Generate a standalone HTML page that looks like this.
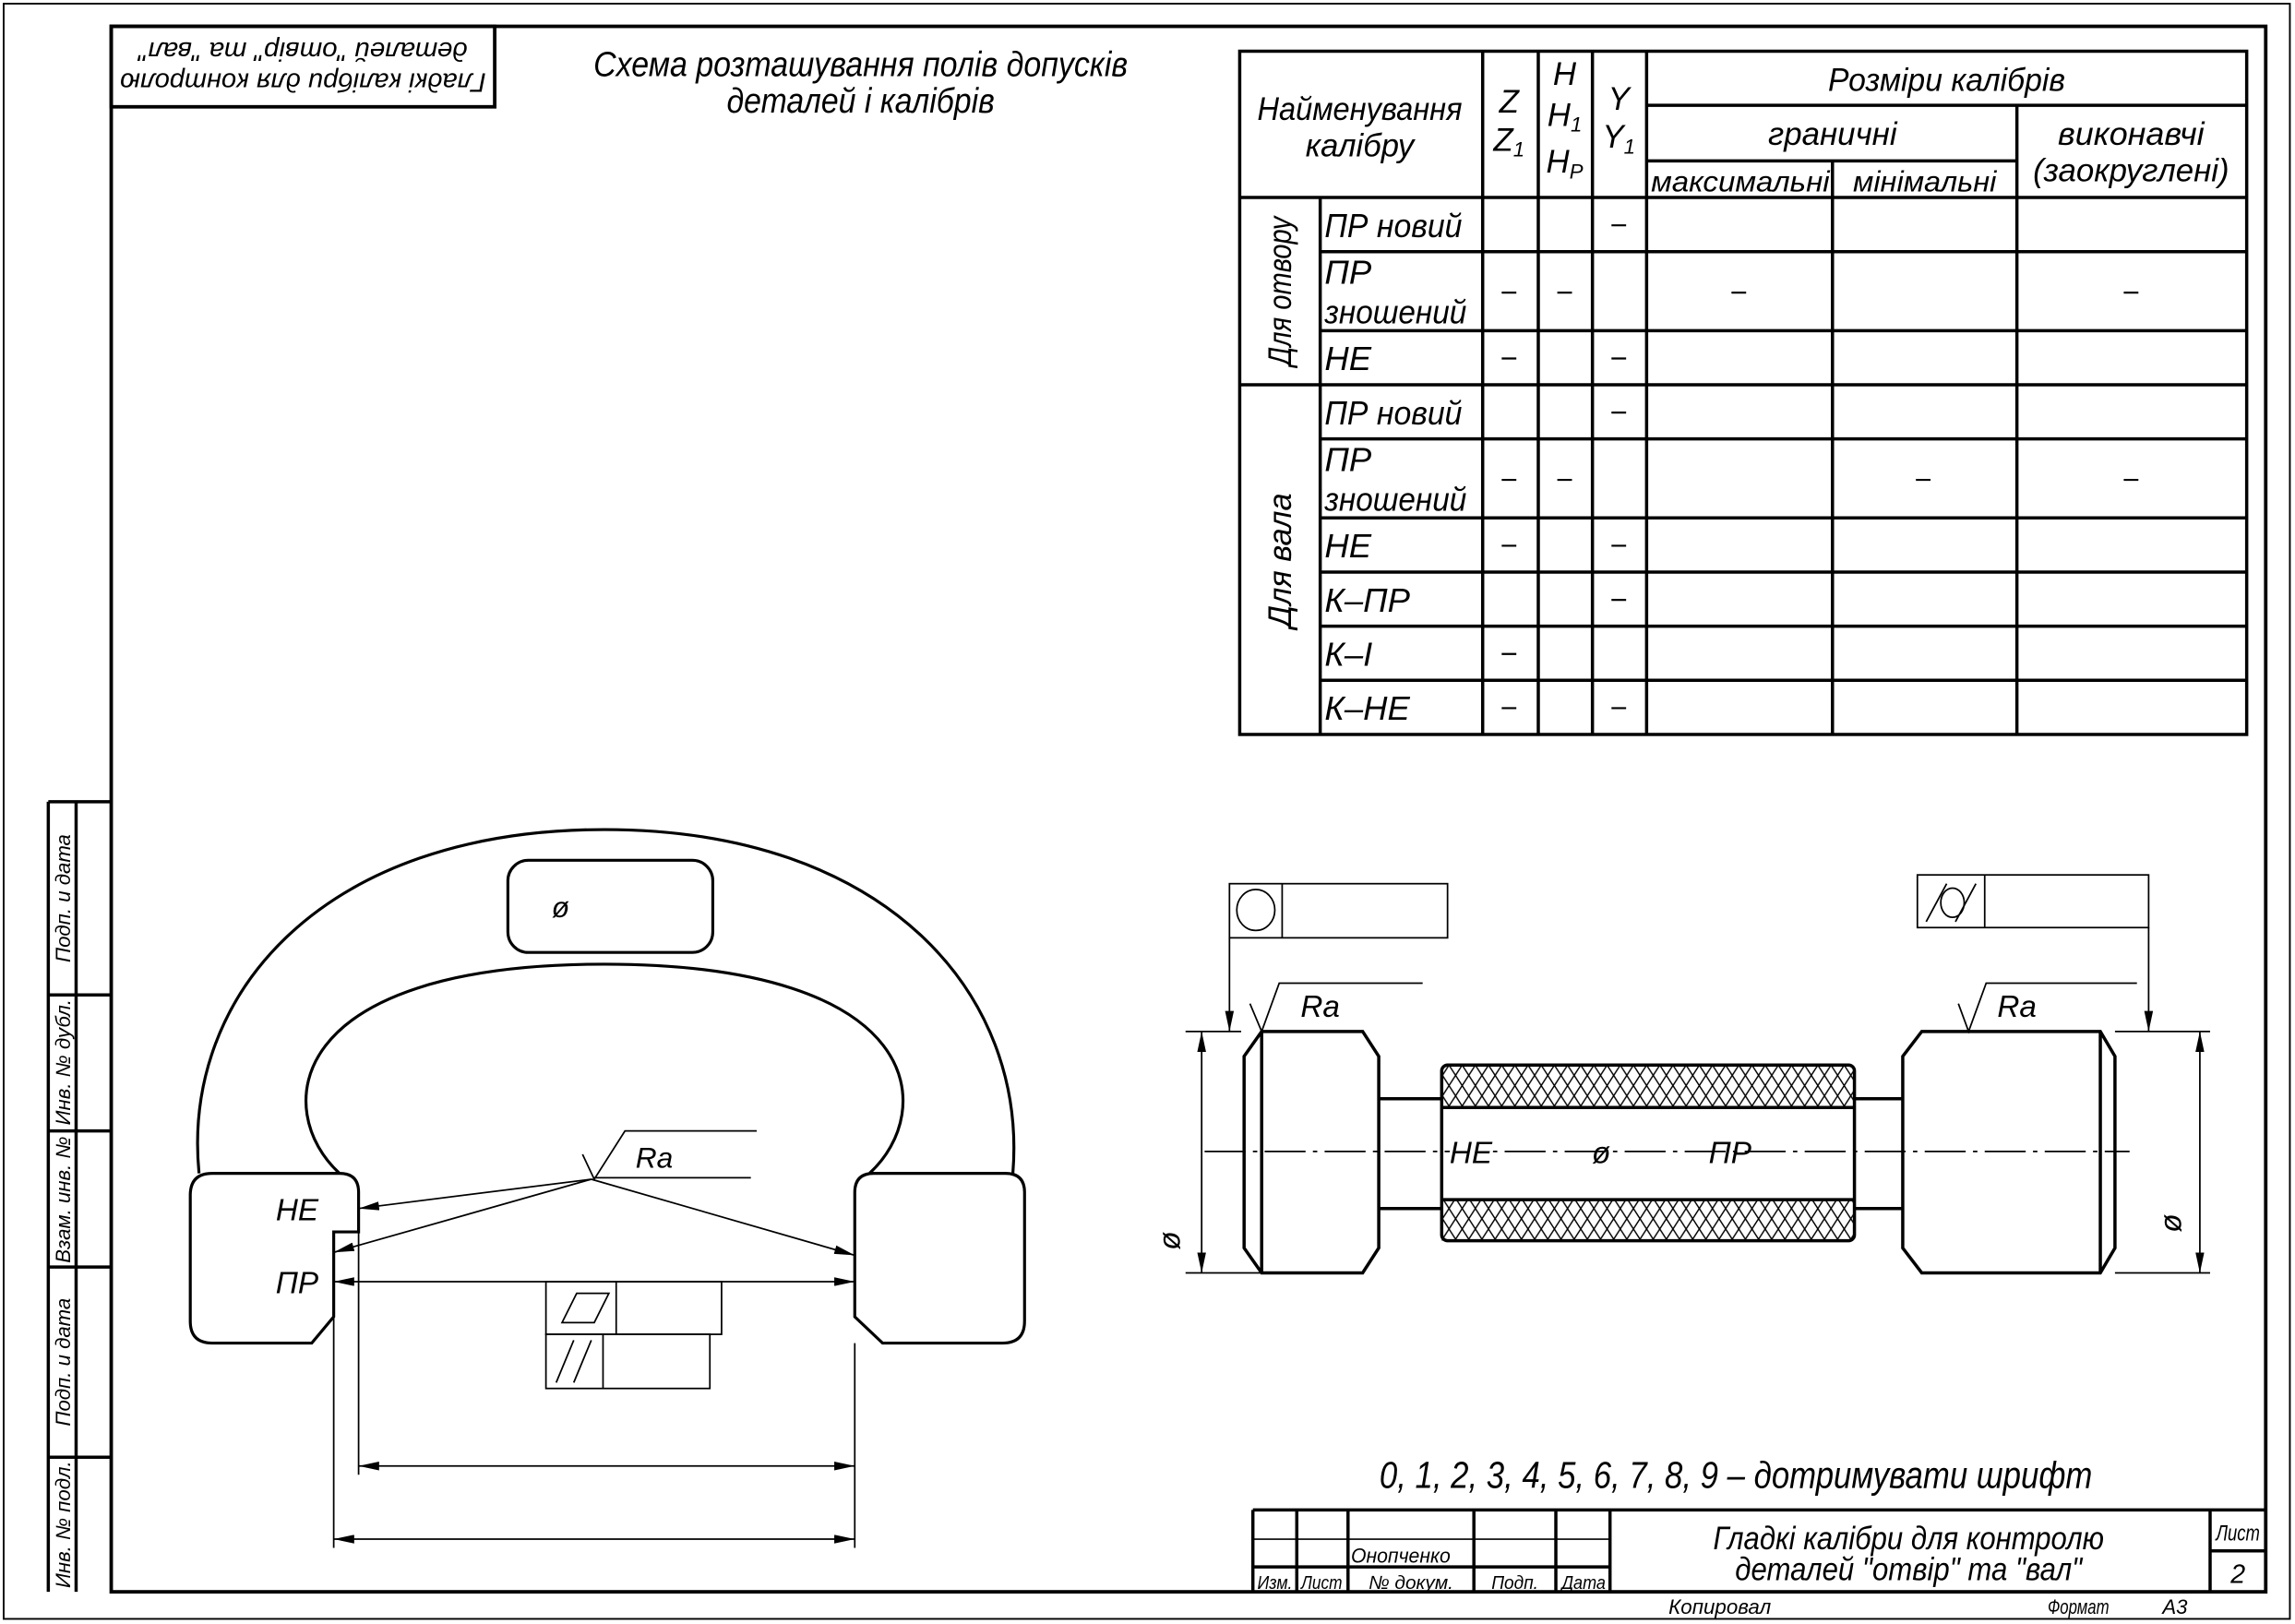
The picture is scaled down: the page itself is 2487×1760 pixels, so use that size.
<!DOCTYPE html>
<html><head><meta charset="utf-8"><style>
html,body{margin:0;padding:0;background:#fff}
svg{display:block}
text{font-family:"Liberation Sans Narrow","Liberation Sans","Noto Sans CJK SC",sans-serif;font-style:italic;fill:#000}
</style></head><body>
<svg width="2487" height="1760" viewBox="0 0 1568 1110" preserveAspectRatio="none" xmlns="http://www.w3.org/2000/svg">
<defs>
<pattern id="kn" width="9" height="14" patternUnits="userSpaceOnUse">
<path d="M0,0 L9,14 M9,0 L0,14" stroke="#000" stroke-width="0.9" fill="none"/>
</pattern>
<marker id="ar" viewBox="0 0 14 6" refX="14" refY="3" markerWidth="14" markerHeight="6" markerUnits="userSpaceOnUse" orient="auto-start-reverse">
<path d="M0,0 L14,3 L0,6 Z" fill="#000"/>
</marker>
</defs>
<rect x="0" y="0" width="1568" height="1110" fill="#fff"/>
<rect x="2.5" y="2.5" width="1562" height="1104" fill="none" stroke="#000" stroke-width="1.2"/>
<rect x="76" y="18" width="1472" height="1070" fill="none" stroke="#000" stroke-width="2.4"/>
<rect x="76" y="18" width="262" height="55" fill="none" stroke="#000" stroke-width="2.4"/>
<g transform="rotate(180 207 45.5)" font-size="18" text-anchor="middle">
<text x="207" y="41" textLength="250" lengthAdjust="spacingAndGlyphs">Гладкі калібри для контролю</text>
<text x="207" y="62" textLength="225" lengthAdjust="spacingAndGlyphs">деталей "отвір" та "вал"</text>
</g>
<text x="588" y="52" font-size="24" text-anchor="middle" textLength="365" lengthAdjust="spacingAndGlyphs">Схема розташування полів допусків</text>
<text x="588" y="77" font-size="24" text-anchor="middle" textLength="183" lengthAdjust="spacingAndGlyphs">деталей і калібрів</text>
<g stroke="#000" stroke-width="2.2" fill="none">
<path d="M33,548 L33,1088 M52,548 L52,1088 M33,548 L76,548 M33,680 L76,680 M33,773 L76,773 M33,866 L76,866 M33,996 L76,996"/>
</g>
<g font-size="14" text-anchor="middle">
<text transform="translate(48 614) rotate(-90)">Подп. и дата</text>
<text transform="translate(48 726) rotate(-90)">Инв. № дубл.</text>
<text transform="translate(48 820) rotate(-90)">Взам. инв. №</text>
<text transform="translate(48 931) rotate(-90)">Подп. и дата</text>
<text transform="translate(48 1042) rotate(-90)">Инв. № подл.</text>
</g>
<g stroke="#000" stroke-width="2.2" fill="none">
<rect x="847" y="35" width="688" height="467"/>
<path d="M1013,35 V502 M1051,35 V502 M1088,35 V502 M1125,35 V502 M1252,110 V502 M1378,72 V502 M902,135 V502"/>
<path d="M1125,72 H1535 M1125,110 H1378 M847,135 H1535 M902,172 H1535 M902,226 H1535 M847,263 H1535 M902,300 H1535 M902,354 H1535 M902,391 H1535 M902,428 H1535 M902,465 H1535"/>
</g>
<g font-size="22" text-anchor="middle">
<text x="929" y="82" textLength="140" lengthAdjust="spacingAndGlyphs">Найменування</text>
<text x="929" y="107" textLength="74" lengthAdjust="spacingAndGlyphs">калібру</text>
<text x="1031" y="77">Z</text>
<text x="1031" y="103">Z<tspan font-size="14" dy="4">1</tspan></text>
<text x="1069" y="58">H</text>
<text x="1069" y="86">H<tspan font-size="14" dy="4">1</tspan></text>
<text x="1069" y="118">H<tspan font-size="14" dy="4">P</tspan></text>
<text x="1106" y="75">Y</text>
<text x="1106" y="101">Y<tspan font-size="14" dy="4">1</tspan></text>
<text x="1330" y="62" textLength="162" lengthAdjust="spacingAndGlyphs">Розміри калібрів</text>
<text x="1252" y="99" textLength="88" lengthAdjust="spacingAndGlyphs">граничні</text>
<text x="1456" y="99" textLength="100" lengthAdjust="spacingAndGlyphs">виконавчі</text>
<text x="1456" y="124" textLength="134" lengthAdjust="spacingAndGlyphs">(заокруглені)</text>
<text x="1189" y="131" font-size="20" textLength="122" lengthAdjust="spacingAndGlyphs">максимальні</text>
<text x="1315" y="131" font-size="20" textLength="98" lengthAdjust="spacingAndGlyphs">мінімальні</text>
<text transform="translate(882 199) rotate(-90)" textLength="102" lengthAdjust="spacingAndGlyphs">Для отвору</text>
<text transform="translate(882 383) rotate(-90)" textLength="92" lengthAdjust="spacingAndGlyphs">Для вала</text>
</g>
<g font-size="23">
<text x="905" y="162" textLength="94" lengthAdjust="spacingAndGlyphs">ПР новий</text>
<text x="905" y="194">ПР</text>
<text x="905" y="221" textLength="97" lengthAdjust="spacingAndGlyphs">зношений</text>
<text x="905" y="253">НЕ</text>
<text x="905" y="290" textLength="94" lengthAdjust="spacingAndGlyphs">ПР новий</text>
<text x="905" y="322">ПР</text>
<text x="905" y="349" textLength="97" lengthAdjust="spacingAndGlyphs">зношений</text>
<text x="905" y="381">НЕ</text>
<text x="905" y="418">К–ПР</text>
<text x="905" y="455">К–І</text>
<text x="905" y="492">К–НЕ</text>
</g>
<g stroke="#000" stroke-width="1.4">
<path d="M1101,154 h10 M1026,200 h10 M1064,200 h10 M1183,200 h10 M1451,200 h10 M1026,245 h10 M1101,245 h10
M1101,282 h10 M1026,328 h10 M1064,328 h10 M1309,328 h10 M1451,328 h10 M1026,373 h10 M1101,373 h10 M1101,410 h10 M1026,447 h10 M1026,484 h10 M1101,484 h10"/>
</g>
<g stroke="#000" stroke-width="2" fill="none">
<path d="M136,802 C124,680 220,567 413,567 C606,567 702,680 692,802"/>
<path d="M232,802 C186,760 192,659 413,659 C634,659 640,760 594,802"/>
<path d="M145,802 L232,802 Q245,802 245,815 L245,842 L228,842 L228,900 L213,918 L145,918 Q130,918 130,903 L130,817 Q130,802 145,802 Z" fill="#fff"/>
<path d="M597,802 L687,802 Q700,802 700,815 L700,903 Q700,918 685,918 L603,918 L584,900 L584,815 Q584,802 597,802 Z" fill="#fff"/>
<rect x="347" y="588" width="140" height="63" rx="14"/>
</g>
<text x="383" y="627" font-size="20" text-anchor="middle">ø</text>
<text x="203" y="834" font-size="21" text-anchor="middle">НЕ</text>
<text x="203" y="884" font-size="21" text-anchor="middle">ПР</text>
<g stroke="#000" stroke-width="1.1" fill="none">
<path d="M398,789 L406,806 L427,773 L517,773 M405,805 L513,805"/>
<path d="M404,806 L245,826" marker-end="url(#ar)"/>
<path d="M404,806 L228,856" marker-end="url(#ar)"/>
<path d="M404,806 L584,858" marker-end="url(#ar)"/>
<path d="M228,876 L584,876" marker-start="url(#ar)" marker-end="url(#ar)"/>
<path d="M245,1002 L584,1002" marker-start="url(#ar)" marker-end="url(#ar)"/>
<path d="M228,1052 L584,1052" marker-start="url(#ar)" marker-end="url(#ar)"/>
<path d="M228,900 V1058 M245,842 V1008 M584,918 V1058"/>
<rect x="373" y="876" width="120" height="36"/>
<path d="M421,876 V912"/>
<path d="M384,904 L394,884 L416,884 L406,904 Z"/>
<rect x="373" y="912" width="112" height="37"/>
<path d="M412,912 V949 M380,945 L392,916 M392,945 L404,916"/>
</g>
<text x="447" y="798" font-size="20" text-anchor="middle">Ra</text>
<g stroke="#000" stroke-width="1.1" fill="none">
<rect x="840" y="604" width="149" height="37"/>
<path d="M876,604 V641"/>
<ellipse cx="858" cy="622" rx="13" ry="14"/>
<path d="M840,641 V705" marker-end="url(#ar)"/>
<rect x="1310" y="598" width="158" height="36"/>
<path d="M1356,598 V634"/>
<path d="M1468,634 V705" marker-end="url(#ar)"/>
<ellipse cx="1334" cy="617" rx="8" ry="10"/>
<path d="M1316,630 L1330,604 M1336,630 L1350,604"/>
<path d="M854,686 L862,705 L874,672 L972,672 M1338,686 L1345,705 L1357,672 L1460,672"/>
<path d="M810,705 H848 M810,870 H862 M1445,705 H1510 M1445,870 H1510"/>
<path d="M821,705 V870" marker-start="url(#ar)" marker-end="url(#ar)"/>
<path d="M1503,705 V870" marker-start="url(#ar)" marker-end="url(#ar)"/>
<path d="M823,787 H1455" stroke-dasharray="28,5,3,5"/>
</g>
<rect x="985" y="728" width="282" height="29" fill="url(#kn)"/>
<rect x="985" y="820" width="282" height="28" fill="url(#kn)"/>
<g stroke="#000" stroke-width="2.2" fill="none">
<path d="M862,705 L931,705 L942,722 L942,853 L931,870 L862,870 L850,853 L850,722 Z M862,705 V870"/>
<path d="M1313,705 L1435,705 L1445,722 L1445,853 L1435,870 L1313,870 L1300,853 L1300,722 Z M1435,705 V870"/>
<path d="M942,751 H985 M942,826 H985 M1267,751 H1300 M1267,826 H1300"/>
<rect x="985" y="728" width="282" height="120" rx="4"/>
<path d="M985,757 H1267 M985,820 H1267"/>
</g>
<g font-size="21" text-anchor="middle">
<text x="1005" y="795" style="paint-order:stroke" stroke="#fff" stroke-width="4">НЕ</text>
<text x="1094" y="795">ø</text>
<text x="1182" y="795">ПР</text>
<text x="902" y="695">Ra</text>
<text x="1378" y="695">Ra</text>
<text transform="translate(806 848) rotate(-90)">ø</text>
<text transform="translate(1490 836) rotate(-90)">ø</text>
</g>
<text x="1186" y="1017" font-size="26" text-anchor="middle" textLength="487" lengthAdjust="spacingAndGlyphs">0, 1, 2, 3, 4, 5, 6, 7, 8, 9 – дотримувати шрифт</text>
<g stroke="#000" stroke-width="2.2" fill="none">
<path d="M856,1032 H1548 M856,1032 V1088 M886,1032 V1088 M921,1032 V1088 M1007,1032 V1088 M1063,1032 V1088 M1100,1032 V1088 M1510,1032 V1088 M1510,1060 H1548 M856,1071 H1100"/>
<path d="M856,1052 H1100" stroke-width="1"/>
</g>
<text x="1304" y="1059" font-size="22" text-anchor="middle" textLength="267" lengthAdjust="spacingAndGlyphs">Гладкі калібри для контролю</text>
<text x="1304" y="1080" font-size="22" text-anchor="middle" textLength="237" lengthAdjust="spacingAndGlyphs">деталей "отвір" та "вал"</text>
<text x="923" y="1068" font-size="14" textLength="68" lengthAdjust="spacingAndGlyphs">Онопченко</text>
<g font-size="13" text-anchor="middle">
<text x="871" y="1086" textLength="24" lengthAdjust="spacingAndGlyphs">Изм.</text>
<text x="903" y="1086" textLength="28" lengthAdjust="spacingAndGlyphs">Лист</text>
<text x="964" y="1086" textLength="58" lengthAdjust="spacingAndGlyphs">№ докум.</text>
<text x="1035" y="1086" textLength="32" lengthAdjust="spacingAndGlyphs">Подп.</text>
<text x="1082" y="1086" textLength="30" lengthAdjust="spacingAndGlyphs">Дата</text>
</g>
<text x="1529" y="1053" font-size="15" text-anchor="middle" textLength="30" lengthAdjust="spacingAndGlyphs">Лист</text>
<text x="1529" y="1082" font-size="18" text-anchor="middle">2</text>
<text x="1175" y="1103" font-size="14" text-anchor="middle" textLength="70" lengthAdjust="spacingAndGlyphs">Копировал</text>
<text x="1420" y="1103" font-size="14" text-anchor="middle" textLength="42" lengthAdjust="spacingAndGlyphs">Формат</text>
<text x="1486" y="1103" font-size="14" text-anchor="middle">А3</text>
</svg>
</body></html>
